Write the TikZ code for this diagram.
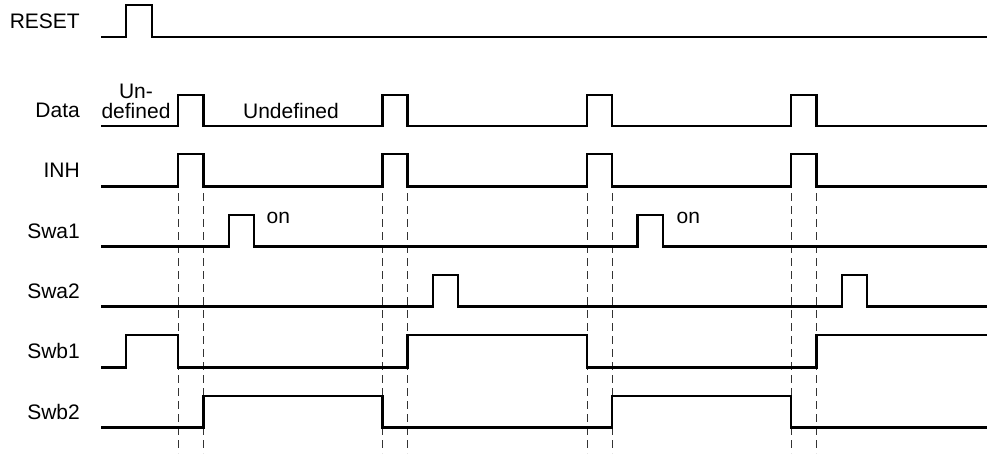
\documentclass[tikz,border=0pt]{standalone}
\usepackage{fontspec}
\setmainfont{Liberation Sans}
\begin{document}
\begin{tikzpicture}[x=1pt,y=-1pt,
  sig/.style={line width=2.8pt, line join=miter, black},
  guide/.style={line width=1pt, black!80, dash pattern=on 8pt off 5pt},
  lbl/.style={anchor=east, inner sep=0pt, font=\fontsize{21}{21}\selectfont},
  txt/.style={inner sep=0pt, font=\fontsize{21}{21}\selectfont, align=center}]
\useasboundingbox (0,0) rectangle (987,453);
% labels
\node[lbl] (lreset) at (80,21) {RESET};
\node[lbl] (ldata) at (80,110.5) {Data};
\node[lbl] (linh) at (80,170.5) {INH};
\node[lbl] (lswa1) at (80,231) {Swa1};
\node[lbl] (lswa2) at (80,291) {Swa2};
\node[lbl] (lswb1) at (80,351) {Swb1};
\node[lbl] (lswb2) at (80,412) {Swb2};
% annotations
\node[txt, anchor=base] (und1) at (136,98) {Un-};
\node[txt, anchor=base] (und2) at (136,118) {defined};
\node[txt, anchor=base] (und3) at (291,118) {Undefined};
\node[txt, anchor=base west] (on1) at (266.5,223) {on};
\node[txt, anchor=base west] (on2) at (676.5,223) {on};
% guide lines
\foreach \gx in {178,203.5,382.5,407.5,587,612,791,816.5}
  \draw[guide] (\gx,193) -- (\gx,453);
% RESET
\draw[sig] (101,37) -- (126,37) -- (126,5) -- (152,5) -- (152,37) -- (987,37);
% Data
\draw[sig] (101,126) -- (178,126) -- (178,95) -- (203.5,95) -- (203.5,126)
  -- (382.5,126) -- (382.5,95) -- (407.5,95) -- (407.5,126)
  -- (587,126) -- (587,95) -- (612,95) -- (612,126)
  -- (791,126) -- (791,95) -- (816.5,95) -- (816.5,126) -- (987,126);
% INH
\draw[sig] (101,186.7) -- (178,186.7) -- (178,154) -- (203.5,154) -- (203.5,186.7)
  -- (382.5,186.7) -- (382.5,154) -- (407.5,154) -- (407.5,186.7)
  -- (587,186.7) -- (587,154) -- (612,154) -- (612,186.7)
  -- (791,186.7) -- (791,154) -- (816.5,154) -- (816.5,186.7) -- (987,186.7);
% Swa1
\draw[sig] (101,246.7) -- (229,246.7) -- (229,215) -- (254,215) -- (254,246.7)
  -- (637.5,246.7) -- (637.5,215) -- (663,215) -- (663,246.7) -- (987,246.7);
% Swa2
\draw[sig] (101,306.7) -- (433,306.7) -- (433,275) -- (458,275) -- (458,306.7)
  -- (842,306.7) -- (842,275) -- (867,275) -- (867,306.7) -- (987,306.7);
% Swb1
\draw[sig] (101,367.3) -- (126,367.3) -- (126,335) -- (178,335) -- (178,367.3)
  -- (407.5,367.3) -- (407.5,335) -- (587,335) -- (587,367.3)
  -- (816.5,367.3) -- (816.5,335) -- (987,335);
% Swb2
\draw[sig] (101,427.7) -- (203.5,427.7) -- (203.5,396) -- (382.5,396) -- (382.5,427.7)
  -- (612,427.7) -- (612,396) -- (791,396) -- (791,427.7) -- (987,427.7);
\end{tikzpicture}
\end{document}
